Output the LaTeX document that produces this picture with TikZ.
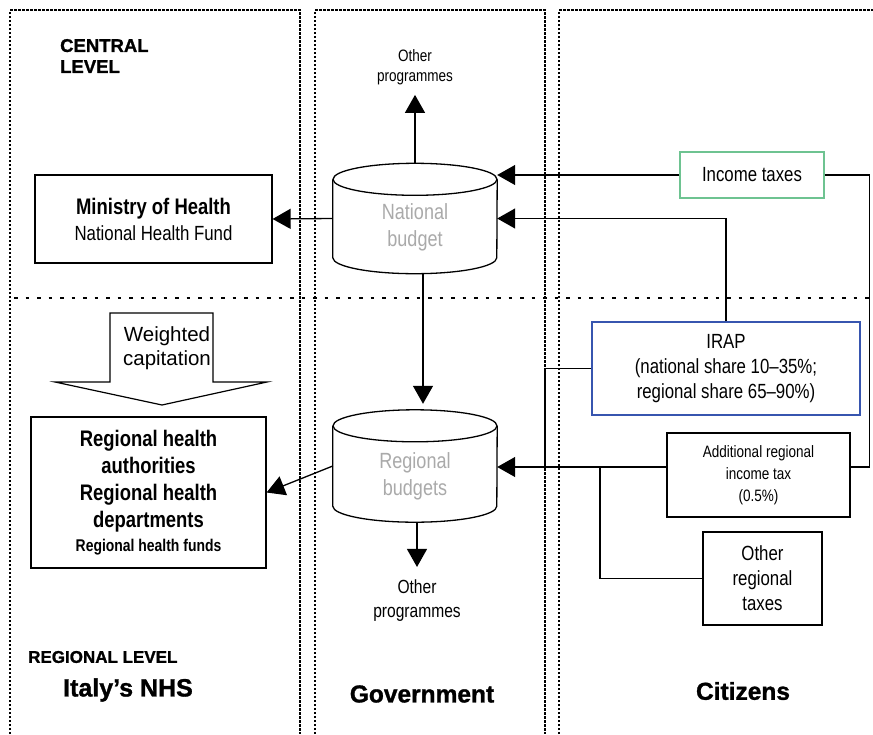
\documentclass[tikz,border=0pt]{standalone}
\usepackage{fontspec}
\setmainfont{Liberation Sans}
\newfontfamily\nar[FakeStretch=0.82]{Liberation Sans}
\newfontfamily\heavy[BoldFeatures={FakeBold=1.2}]{Liberation Sans}
\usetikzlibrary{arrows.meta}
\definecolor{gtxt}{RGB}{170,170,170}
\definecolor{gbox}{RGB}{110,195,145}
\definecolor{bbox}{RGB}{55,85,175}
\newcommand\drawcyl[1]{%
  \draw[cyl,fill=white] ([yshift=-16pt]#1.north west) -- ([yshift=16pt]#1.south west)
    arc[start angle=180,end angle=360,x radius=82,y radius=16] -- ([yshift=-16pt]#1.north east);
  \draw[cyl] ([yshift=-16pt]#1.north) ellipse[x radius=82,y radius=16];}
\begin{document}
\begin{tikzpicture}[x=1pt,y=1pt,
  col/.style={line width=1.5pt, dash pattern=on 2.5pt off 1.5pt},
  midline/.style={line width=1.8pt, dash pattern=on 3.5pt off 8pt},
  box/.style={draw, line width=1.2pt, align=center, inner sep=0pt},
  arr/.style={line width=1.3pt, -{Triangle[length=18pt,width=20pt]}},
  ln/.style={line width=1.3pt},
  cyl/.style={line width=1.3pt},
  lbl/.style={align=center, inner sep=0pt}]
\useasboundingbox (0,0) rectangle (873,-734);
% columns
\draw[col] (10,-734) -- (10,-10) -- (300,-10) -- (300,-734);
\draw[col] (315,-734) -- (315,-10) -- (545,-10) -- (545,-734);
\draw[col] (559,-734) -- (559,-10) -- (873,-10);
\draw[midline] (14,-298) -- (873,-298);
% labels
\node[lbl, anchor=west, align=left, font=\heavy\fontsize{18.5}{21}\selectfont\bfseries] (central) at (60,-56) {CENTRAL\\LEVEL};
\node[lbl, anchor=west, font=\heavy\fontsize{17}{20}\selectfont\bfseries] (reglev) at (28,-657) {REGIONAL LEVEL};
\node[lbl, font=\heavy\fontsize{25}{28}\selectfont\bfseries] (italy) at (128,-690) {Italy’s NHS};
\node[lbl, font=\heavy\fontsize{24.5}{28}\selectfont\bfseries] (gov) at (422,-694) {Government};
\node[lbl, font=\heavy\fontsize{24.5}{28}\selectfont\bfseries] (cit) at (743,-691) {Citizens};
% boxes
\node[box, minimum width=237pt, minimum height=88pt, font=\nar\fontsize{20.5}{26}\selectfont] (mh) at (153.5,-219)
  {{\fontsize{22.5}{26}\selectfont\bfseries Ministry of Health}\\National Health Fund};
\node[box, draw=gbox, minimum width=144pt, minimum height=46pt, font=\nar\fontsize{20.5}{25}\selectfont] (it) at (752,-175) {Income taxes};
\node[box, draw=bbox, minimum width=268pt, minimum height=93pt, font=\nar\fontsize{20.5}{25}\selectfont] (irap) at (726,-368.5)
  {IRAP\\(national share 10–35\%;\\regional share 65–90\%)};
\node[box, minimum width=183pt, minimum height=84pt, font=\nar\fontsize{16.5}{22}\selectfont] (art) at (758.5,-475)
  {Additional regional\\income tax\\(0.5\%)};
\node[box, minimum width=119pt, minimum height=93pt, font=\nar\fontsize{20.5}{25}\selectfont] (ort) at (762.5,-578.5)
  {Other\\regional\\taxes};
\node[box, minimum width=235pt, minimum height=151pt, font=\nar\fontsize{22.5}{27}\selectfont\bfseries] (rh) at (148.5,-492.5)
  {Regional health\\authorities\\Regional health\\departments\\[-3pt]{\fontsize{17}{20}\selectfont Regional health funds}};
% weighted capitation arrow
\draw[line width=1.2pt] (110,-313) -- (213,-313) -- (213,-382) -- (267,-382) -- (162,-405) -- (55,-382) -- (110,-382) -- cycle;
\node[lbl, font=\fontsize{20.5}{24}\selectfont] (wc) at (167,-348) {Weighted\\capitation};
% cylinders
\node[minimum width=164pt, minimum height=110pt, inner sep=0pt] (nb) at (415,-218.5) {};
\drawcyl{nb}
\node[lbl, text=gtxt, font=\nar\fontsize{22}{27}\selectfont] (nbt) at (415,-227) {National\\budget};
\node[minimum width=164pt, minimum height=112pt, inner sep=0pt] (rb) at (415,-466) {};
\drawcyl{rb}
\node[lbl, text=gtxt, font=\nar\fontsize{22}{27}\selectfont] (rbt) at (415,-476) {Regional\\budgets};
\node[lbl, font=\nar\fontsize{16.5}{20}\selectfont] (op1) at (415,-67) {Other\\programmes};
\node[lbl, font=\nar\fontsize{19}{24}\selectfont] (op2) at (417,-601) {Other\\programmes};
% junctions
\coordinate (j1) at (545,-467);
\coordinate (j2) at (600,-467);
% connectors
\draw[arr, shorten >=10pt] (nb.north) -- (op1.south);
\draw[arr] (nb.west) -- (mh.east);
\draw[arr] (it.west) -- (it.west -| nb.east);
\draw[arr] (irap.north) |- (nb.east);
\draw[ln] (it.east) -- ++(45,0) |- ([yshift=8pt]art.east);
\draw[arr] ([yshift=8pt]art.west) -- ([yshift=8pt]art.west -| rb.east);
\draw[ln] (irap.west) -| (j1);
\draw[ln] (ort.west) -| (j2);
\draw[arr, shorten >=6pt] ([xshift=8pt]nb.south) -- ([xshift=8pt]rb.north);
\draw[arr, shorten >=13pt] ([xshift=2pt]rb.south) -- (op2.north);
\draw[arr] (rb.west) -- (rh.east);
\end{tikzpicture}
\end{document}
